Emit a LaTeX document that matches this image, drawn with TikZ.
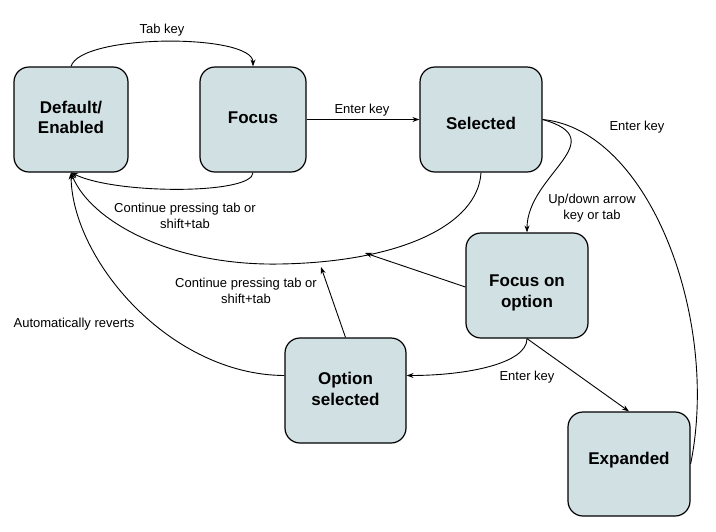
\documentclass[tikz,border=0pt]{standalone}
\usepackage{fontspec}
\setmainfont{Liberation Sans}
\usetikzlibrary{arrows.meta}
\definecolor{boxfill}{HTML}{D0E0E3}
\begin{document}
\begin{tikzpicture}[x=1pt,y=-1pt,
 stbox/.style={draw=black, line width=1.2pt, fill=boxfill, rounded corners=15pt, inner sep=0pt},
 boxtext/.style={inner sep=0pt, align=center, font=\bfseries\fontsize{17}{20.5}\selectfont},
 edge/.style={line width=0.9pt, draw=black},
 arr/.style={edge, -{Stealth[length=7pt,width=5pt]}},
 lbl/.style={font=\fontsize{13}{16}\selectfont, align=center, inner sep=0pt}]
\useasboundingbox (0,0) rectangle (716,531);
\node[stbox, minimum width=114pt, minimum height=105pt] (def) at (71,119.5) {};
\node[stbox, minimum width=106pt, minimum height=105pt] (foc) at (253,119.5) {};
\node[stbox, minimum width=122pt, minimum height=105pt] (sel) at (481,119.5) {};
\node[stbox, minimum width=122pt, minimum height=105pt] (fopt) at (527,285.5) {};
\node[stbox, minimum width=121pt, minimum height=105pt] (osel) at (345.5,390.5) {};
\node[stbox, minimum width=122pt, minimum height=104pt] (exp) at (629,464) {};

\node[boxtext] (deft) at (71,117.5) {Default/\\Enabled};
\node[boxtext] (foct) at (253,117.5) {Focus};
\node[boxtext] (selt) at (481,123.5) {Selected};
\node[boxtext] (foptt) at (527,293) {Focus on\\option};
\node[boxtext] (oselt) at (345.5,389) {Option\\selected};
\node[boxtext] (expt) at (629,460) {Expanded};

\coordinate (m) at (280,264);
\coordinate (h1) at (365,253);
\coordinate (h2) at (321,267);

% Tab key
\draw[arr] (def.north) .. controls +(10,-33) and +(0,-33) .. (foc.north);
\node[lbl] (l1) at (162,30) {Tab key};
% Enter key focus -> selected
\draw[arr] (foc.east) -- (sel.west);
\node[lbl] (l2) at (362,110) {Enter key};
% Focus -> default
\draw[arr] (foc.south) .. controls +(0,22) and +(45,22) .. (def.south);
\node[lbl] (l3) at (185,215.5) {Continue pressing tab or\\shift+tab};
% Selected -> default
\draw[edge] (sel.south) .. controls (478,225) and (400,262) .. (m);
\draw[arr] (m) .. controls (170,266) and (90,220) .. (def.south);
% Selected -> focus on option
\draw[arr] (sel.east) .. controls (615,140) and (527,175) .. (fopt.north);
\node[lbl] (l4) at (592,208) {Up/down arrow\\key or tab};
% Selected -- expanded
\draw[edge] (sel.east) .. controls (650,130) and (720,320) .. (exp.east);
\node[lbl] (l5) at (637,127) {Enter key};
% Focus on option -> expanded
\draw[arr] (fopt.south) -- (exp.north);
\node[lbl] (l6) at (527,377) {Enter key};
% Focus on option -> option selected
\draw[arr] (fopt.south) .. controls +(0,25) and +(60,0) .. ([yshift=15pt]osel.east);
% Focus on option -> back
\draw[arr] ([yshift=-1.5pt]fopt.west) -- (h1);
% Option selected -> back
\draw[arr] (osel.north) -- (h2);
\node[lbl] (l7) at (246,290.5) {Continue pressing tab or\\shift+tab};
% Option selected -> default
\draw[arr] ([yshift=15pt]osel.west) .. controls (170,375) and (72,260) .. (def.south);
\node[lbl] (l8) at (74,324) {Automatically reverts};
\end{tikzpicture}
\end{document}
